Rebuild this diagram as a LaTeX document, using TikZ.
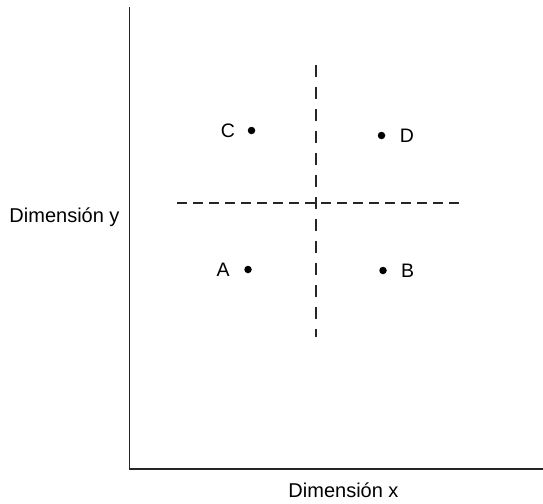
\documentclass[tikz,border=0pt]{standalone}
\usepackage{fontspec}
\setmainfont{Liberation Sans}
\begin{document}
\begin{tikzpicture}[x=1pt,y=-1pt,
  axisline/.style={line width=1.4pt,black!85},
  splitline/.style={line width=1.3pt,black!85,dash pattern=on 10pt off 6pt},
  splitlinev/.style={line width=1.3pt,black!85,dash pattern=on 12pt off 10pt},
  pt/.style={circle,fill=black,inner sep=0pt,minimum size=7.5pt},
  lbl/.style={font=\fontsize{19.5}{22}\selectfont,inner sep=0pt},
  axlbl/.style={font=\fontsize{20}{23}\selectfont,inner sep=0pt}]
\useasboundingbox (0,0) rectangle (543,503);
\fill[white] (0,0) rectangle (543,503);
% axes
\coordinate (o) at (129.5,469);
\coordinate (ytop) at (129.5,7);
\coordinate (xend) at (543,469);
\draw[axisline] (ytop) -- (o) -- (xend);
% dividing lines
\coordinate (vt) at (316,65);
\coordinate (vb) at (316,337);
\coordinate (hl) at (177,203);
\coordinate (hr) at (460,203);
\draw[splitlinev] (vt) -- (vb);
\draw[splitline] (hl) -- (hr);
% points
\node[pt] (C) at (251.5,130.5) {};
\node[pt] (D) at (381.5,135.5) {};
\node[pt] (A) at (248,269.5) {};
\node[pt] (B) at (383,270.5) {};
\node[lbl] (Cl) at (228,130.5) {C};
\node[lbl] (Dl) at (407,135.5) {D};
\node[lbl] (Al) at (223,269.5) {A};
\node[lbl] (Bl) at (407.5,270.5) {B};
% axis labels
\node[axlbl] (ylab) at (64.5,217) {Dimensión y};
\node[axlbl] (xlab) at (343.5,490.5) {Dimensión x};
\end{tikzpicture}
\end{document}
